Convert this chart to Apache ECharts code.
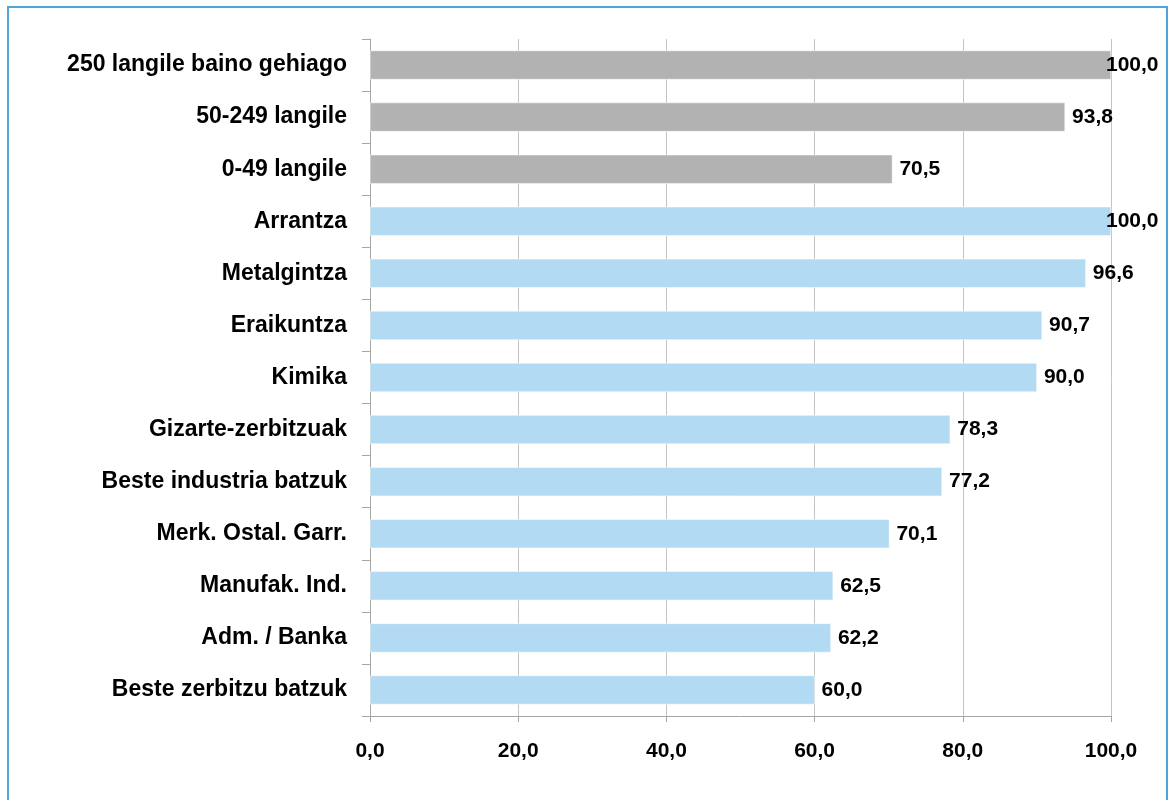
<!DOCTYPE html>
<html>
<head>
<meta charset="utf-8">
<script src="https://cdn.jsdelivr.net/npm/echarts@6/dist/echarts.min.js"></script>
<style>
html,body{margin:0;padding:0;background:#fff;}
#frame{position:absolute;left:7px;top:6px;width:1161px;height:810px;border:2px solid #4fa3df;box-sizing:border-box;}
#chart{position:absolute;left:0;top:0;width:1169px;height:800px;}
</style>
</head>
<body>
<div id="frame"></div>
<div id="chart"></div>
<script>
const categories = ['250 langile baino gehiago','50-249 langile','0-49 langile','Arrantza','Metalgintza','Eraikuntza','Kimika','Gizarte-zerbitzuak','Beste industria batzuk','Merk. Ostal. Garr.','Manufak. Ind.','Adm. / Banka','Beste zerbitzu batzuk'];
const values = [100.0,93.8,70.5,100.0,96.6,90.7,90.0,78.3,77.2,70.1,62.5,62.2,60.0];
const groups = ['size','size','size','sector','sector','sector','sector','sector','sector','sector','sector','sector','sector'];
const xTicks = [0,20,40,60,80,100];

const groupColor = {size:'#b2b2b2', sector:'#b3daf3'};
const fmt = v => Number(v).toFixed(1).replace('.', ',');
const font = 'Liberation Sans, Arial, sans-serif';
const xMax = xTicks[xTicks.length-1];

const chart = echarts.init(document.getElementById('chart'), null, {renderer:'canvas'});
chart.setOption({
  animation:false,
  backgroundColor:'transparent',
  grid:{left:370, right:58, top:39, bottom:84, containLabel:false},
  xAxis:{
    type:'value', min:xTicks[0], max:xMax, interval:20,
    axisLine:{show:true, lineStyle:{color:'#a6a6a6', width:1}},
    axisTick:{show:true, length:6, lineStyle:{color:'#a6a6a6'}},
    splitLine:{show:true, lineStyle:{color:'#c4c4c4', width:1}},
    axisLabel:{formatter:fmt, color:'#000', fontFamily:font, fontWeight:'bold', fontSize:21, margin:25}
  },
  yAxis:{
    type:'category', data:categories, inverse:true,
    axisLine:{show:true, lineStyle:{color:'#a6a6a6', width:1}},
    axisTick:{show:true, length:8, alignWithLabel:false, lineStyle:{color:'#a6a6a6'}},
    axisLabel:{color:'#000', fontFamily:font, fontWeight:'bold', fontSize:23, margin:23}
  },
  series:[{
    type:'bar',
    data: values.map((v,i)=>({
      value:v,
      itemStyle:{color:groupColor[groups[i]]},
      label: v >= xMax ? {offset:[-12,0]} : {}
    })),
    barWidth:29,
    itemStyle:{borderColor:'#ffffff', borderWidth:0.5},
    label:{show:true, position:'right', distance:7, formatter:p=>fmt(p.value), color:'#000', fontFamily:font, fontWeight:'bold', fontSize:21}
  }]
});
</script>
</body>
</html>
